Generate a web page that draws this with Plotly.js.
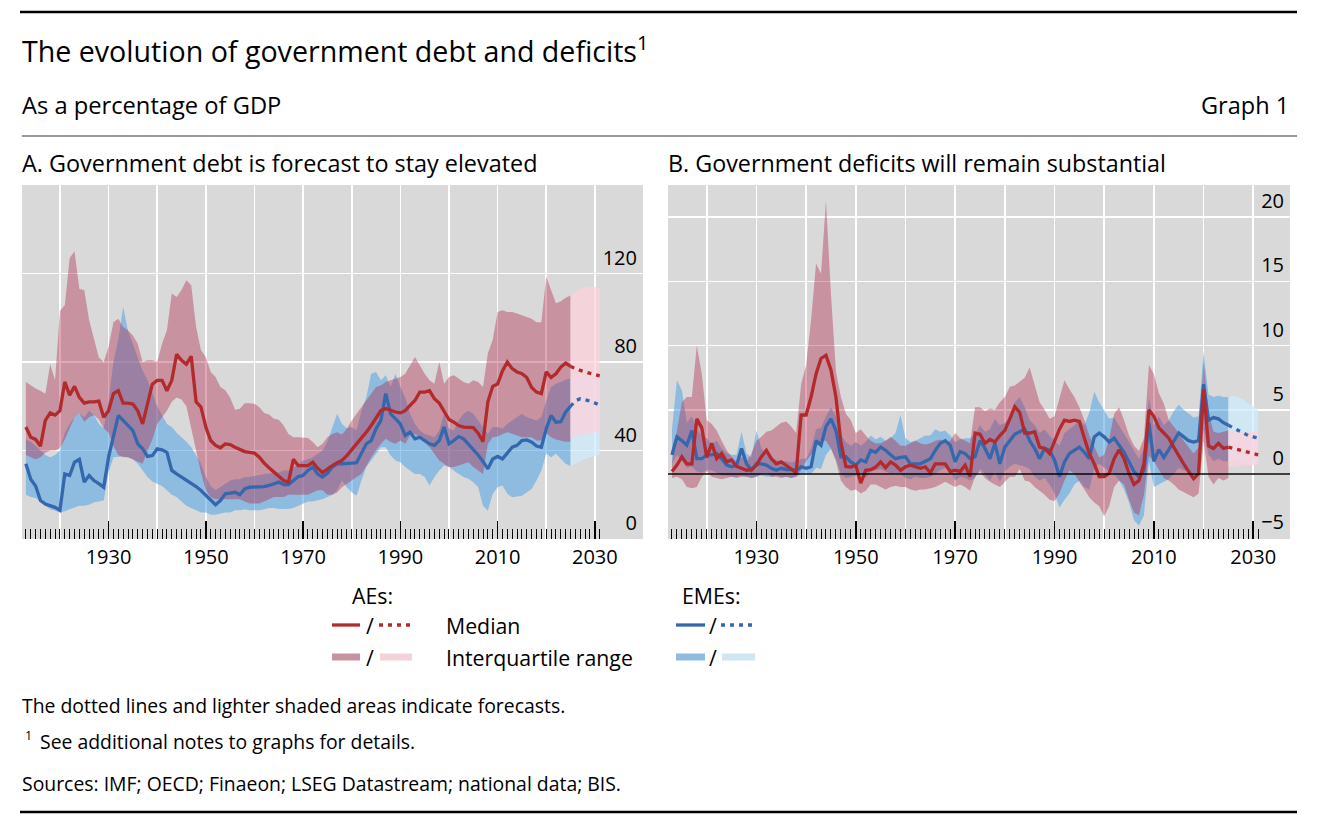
<!DOCTYPE html>
<html>
<head>
<meta charset="utf-8">
<script src="https://cdn.plot.ly/plotly-3.0.1.min.js"></script>
<style>
  html, body { margin: 0; padding: 0; background: #fff; }
  #chart { width: 1317px; height: 824px; }
</style>
</head>
<body>
<div id="chart"></div>
<script>
// ---- data (as a percentage of GDP) ----
const firstYear = 1913
const lastYear = 2025
const forecastYears = [2025, 2026, 2027, 2028, 2029, 2030, 2031]

// Panel A: government debt
const aeDebtMed = [
  50.6, 46, 45, 42, 53.6, 57, 56, 58, 71, 65,
  69, 64, 61.4, 62, 62, 62.3, 55, 58, 65.7, 67,
  61.4, 61.4, 61, 58, 52, 61, 70, 71.7, 71.7, 67,
  71.7, 83.5, 80.8, 79, 82.6, 62, 59.6, 50.6, 44.5, 42.3,
  41.2, 43, 42.7, 41.5, 40.3, 39.5, 39.2, 38.8, 37, 34.3,
  32.2, 30.2, 28, 26.4, 25.7, 36, 33.2, 33.2, 33.2, 34.7,
  32, 30, 31.7, 33.2, 34.5, 35.5, 37.7, 40.3, 43, 45.3,
  48.3, 51.3, 55, 58, 59, 58, 57.4, 57, 58, 60.4,
  62.6, 66.4, 66.4, 67, 63.4, 61.4, 57.4, 54, 52.8, 51.3,
  50.6, 50.6, 50.3, 47.8, 44, 62, 69, 70, 76, 80,
  77, 75.5, 74.7, 73, 68.5, 66.4, 65.7, 75.5, 73, 74.7,
  77.7, 79.5, 78
]
const aeDebtQ3 = [
  71, 69.4, 68, 67, 65.7, 79, 71.7, 103, 105.7, 127,
  130, 113, 112.5, 99, 91, 82, 80, 86.8, 98, 99.6,
  95.8, 94.3, 92, 88.3, 80, 80.8, 80.8, 80, 88.3, 94.3,
  111, 109.4, 112.5, 117, 114.7, 95.8, 85.3, 82.3, 75.5, 73.2,
  68.7, 67.2, 64, 58.4, 58.9, 61.4, 61.4, 61.1, 59.6, 56.9,
  56.3, 54.3, 53.9, 51.3, 47.5, 46, 46, 45.7, 45.7, 43.8,
  41.5, 43, 46, 47.5, 48.3, 47.2, 49.8, 53.6, 56.6, 59.6,
  62.6, 65.7, 68.7, 69.4, 71, 71.7, 72.5, 73.2, 74.7, 78.5,
  82.3, 78.5, 74.7, 71.7, 70.2, 80, 70.2, 73.2, 74, 72.5,
  71, 70.2, 71.7, 71, 68.7, 84, 90, 102.6, 103.4, 102.6,
  102.6, 101.9, 101.1, 100.4, 99.6, 98, 98, 118.5, 112.5, 106.5,
  107.5, 109, 110
]
const aeDebtQ1 = [
  38, 37, 36, 37, 39, 40, 40, 41, 45, 50,
  55, 57, 53, 55, 56, 54, 50, 48, 42, 38,
  37, 37, 36, 35, 34, 40, 45, 52, 55, 58,
  62, 64, 63, 60, 50, 40, 30, 22, 19, 18,
  18, 18, 18, 18, 18, 17, 16, 16, 16, 17,
  18, 19, 19, 19, 20, 20, 20, 20, 20, 21,
  22, 22, 20, 20, 21, 23.4, 25, 26.4, 28, 29.4,
  33, 37, 40, 43, 45.3, 43.8, 43, 44.5, 43, 46.8,
  47.5, 46, 43.8, 41.5, 38.5, 35.5, 34, 32.5, 32.5, 33.2,
  34, 34.7, 32.5, 31, 29.4, 43, 46, 46.3, 47.5, 48.3,
  47.5, 46.8, 46, 46, 46, 44.5, 44.5, 48, 46, 45,
  44.5, 44, 44
]
const emeDebtMed = [
  34, 27, 24, 17.4, 15.8, 15, 14.3, 13, 29.4, 28.7,
  34.7, 36, 25.7, 28.7, 26.4, 25, 23.4, 37, 46, 55.8,
  53.6, 51.3, 49, 43, 40.8, 37.3, 37.7, 40.8, 40.3, 39.2,
  31, 29.4, 28, 26.7, 25, 23.7, 21.9, 19.6, 17.4, 15.5,
  17.4, 20.4, 20.7, 21.1, 20, 22.6, 23.4, 23.4, 23.7, 23.7,
  24.2, 25, 25.7, 24.6, 24.6, 26.4, 28.2, 28.7, 31, 32.5,
  29.4, 28, 29.7, 32.5, 34, 34, 34.3, 34.3, 34.5, 38.5,
  43, 44.5, 49.8, 53.6, 65.7, 56.6, 54.3, 52, 46.8, 48.3,
  45.3, 46, 44.5, 43, 42.3, 44.5, 50.6, 43, 44.5, 46.3,
  45.3, 43, 40.5, 38, 35, 31.7, 36.2, 37.3, 36.2, 38.8,
  41.5, 42.3, 44.5, 44.8, 43.8, 42, 41.5, 49.8, 55.8, 52.8,
  53, 57.4, 60
]
const emeDebtQ3 = [
  45, 44, 42, 40, 38, 37, 38, 40, 48, 52,
  55, 57, 55, 58, 56, 52, 50, 62, 80, 90,
  105, 94, 88, 82, 76, 72, 66, 60, 56, 52,
  50.6, 48, 46, 44, 41.5, 38, 34, 28, 24, 22,
  23.5, 25, 26.4, 27, 27, 28, 28, 28.5, 29, 29.4,
  29.5, 30, 30, 31, 31, 32, 34, 35.5, 36, 37,
  38.5, 40, 44, 50, 56.6, 52, 50, 50.6, 49, 58,
  64, 74.7, 75.5, 71.7, 74, 68.7, 74.7, 68.7, 64, 56.6,
  52, 49, 47.5, 46.8, 46, 49, 56.6, 49.8, 49, 53.6,
  56.6, 58, 56.6, 53.6, 50.6, 47.5, 50.6, 50.6, 49.8, 52,
  53.6, 55, 56.6, 55, 54.3, 53.6, 55, 62.6, 68.7, 70.2,
  71, 72, 72.5
]
const emeDebtQ1 = [
  20, 19, 18.5, 17, 15, 13.5, 12.8, 12, 12.5, 13.5,
  14.3, 15, 15, 15.5, 16.6, 17, 17.4, 30, 37, 37,
  37.3, 37, 36, 34, 31, 28, 26, 25, 24, 22,
  20, 19, 17, 15, 14, 13, 12, 12, 11, 11,
  11.5, 12, 12, 13, 13, 13.5, 13, 13, 13, 13.5,
  14, 14, 13.6, 13.6, 13.6, 14, 15, 16, 17, 17,
  17.5, 18, 19, 20, 22, 26.4, 23.4, 21.1, 19.6, 26.4,
  32.5, 35.5, 38.5, 41.5, 41.5, 37.7, 35.5, 34.7, 32.5, 31,
  29.4, 29.4, 28, 24.2, 28, 31, 33.2, 32.5, 31, 29.4,
  28, 27.2, 25.7, 23.4, 15, 12.8, 20.4, 23.4, 24.2, 20.4,
  18.9, 19.2, 19.6, 21.1, 22.6, 26.4, 31, 38.5, 37, 38.5,
  36.2, 34, 33
]
const aeDebtMedF = [78, 77, 76.2, 75.5, 74.8, 74.2, 73.7]
const aeDebtQ3F = [110, 111.5, 113, 114, 114, 114, 113.5]
const aeDebtQ1F = [46, 46.5, 47, 47.5, 48, 48.3, 48.3]
const emeDebtMedF = [60, 62.5, 63.4, 63, 62.4, 61.5, 60.5]
const emeDebtQ3F = [72.5, 73, 73.5, 74, 74, 74, 74]
const emeDebtQ1F = [33, 34, 35, 36, 37, 37.5, 38]

// Panel B: government deficits
const aeDefMed = [
  0.2, 0.7, 1.35, 0.8, 0.8, 4.3, 3.6, 1.3, 2.4, 1.2,
  1.6, 0.95, 1.1, 0.6, 0.45, 0.3, 0.35, 0.7, 1.35, 1.85,
  1.2, 0.8, 0.95, 0.7, 0.4, 0.1, 4.6, 4.6, 6.0, 7.8,
  9.0, 9.25, 8.1, 6.0, 2.5, 0.6, 0.55, 0.7, -0.7, 0.3,
  0.35, 0.55, 0.95, 0.5, 0.95, 0.7, 0.3, 0.57, 0.7, 0.57,
  0.45, 0.57, 0.1, 0.8, 0.8, 0.8, 0.2, 0.3, 0.2, 0.7,
  -0.2, 3.2, 3.1, 2.4, 2.7, 2.5, 3.0, 3.4, 4.3, 5.25,
  4.8, 3.2, 3.2, 3.3, 2.1, 2.0, 1.6, 2.5, 3.5, 4.2,
  4.1, 4.2, 4.1, 2.8, 1.6, 0.8, -0.2, -0.2, 0.05, 1.2,
  1.9, 1.2, 0.05, -0.8, -0.5, 0.8, 5.0, 4.5, 3.6, 3.2,
  2.8, 2.1, 1.4, 0.8, 0.2, -0.35, 0.05, 6.6, 2.2, 2.0,
  2.4, 2.0, 2.1
]
const aeDefQ3 = [
  0.8, 3.4, 5.6, 6.0, 6.0, 10.0, 7.8, 4.2, 3.9, 3.4,
  2.6, 1.85, 1.35, 0.95, 1.35, 0.95, 1.6, 2.6, 2.9, 3.3,
  3.4, 3.7, 4.0, 4.1, 3.7, 3.2, 7.0, 8.5, 12, 16.4,
  15.6, 21.3, 14, 8.0, 6.0, 4.7, 4.2, 3.2, 3.5, 3.0,
  2.6, 2.4, 2.4, 2.6, 2.9, 2.6, 2.2, 2.2, 2.4, 2.6,
  2.4, 2.3, 2.4, 2.6, 2.7, 2.5, 2.6, 3.2, 2.8, 2.6,
  2.4, 5.2, 5.2, 4.9, 5.1, 5.0, 5.6, 6.0, 6.8, 6.9,
  7.2, 7.5, 8.3, 7.0, 5.6, 5.0, 4.3, 4.5, 5.8, 7.3,
  6.6, 6.0, 5.2, 4.2, 3.0, 2.2, 1.3, 1.5, 2.7, 4.7,
  5.2, 4.2, 3.0, 2.2, 1.8, 2.8, 8.5, 7.8, 6.3, 5.5,
  4.2, 3.7, 3.2, 2.6, 2.1, 1.6, 2.1, 8.8, 4.8, 3.3,
  3.2, 3.3, 3.4
]
const aeDefQ1 = [
  -0.3, -0.2, -0.4, -1.0, -1.1, -1.0, -0.2, 0.2, -0.2, -0.3,
  -0.4, -0.3, -0.2, -0.3, -0.2, -0.2, -0.3, -0.2, 0.0, 0.1,
  -0.2, -0.2, -0.3, -0.2, -0.3, -0.2, 0.3, 1.0, 1.5, 2.0,
  2.6, 2.6, 2.0, 1.0, -0.5, -1.0, -1.3, -1.2, -1.5, -1.3,
  -0.8, -0.8, -1.0, -1.2, -1.0, -0.9, -1.0, -1.0, -1.2, -1.3,
  -1.2, -1.2, -1.1, -1.0, -0.8, -0.6, -0.8, -1.0, -0.8, -1.0,
  -1.3, -0.2, 0.2, -0.3, -0.6, -0.8, -1.0, -0.6, -0.2, -0.2,
  0.4, -0.5, -0.6, -1.0, -1.3, -1.6, -2.0, -2.1, -1.5, -0.5,
  0.3, 0.0, -0.5, -1.2, -1.8, -2.2, -2.5, -3.3, -2.5, -1.0,
  -0.5, -0.8, -2.0, -3.0, -3.2, -1.6, 1.4, 1.0, 0.3, -0.3,
  -0.5, -0.8, -1.2, -1.4, -1.6, -1.8, -1.5, 2.6, -0.2, -0.8,
  -0.3, -0.5, -0.3
]
const emeDefMed = [
  1.5, 2.9, 2.6, 2.25, 3.4, 1.2, 1.2, 1.5, 1.5, 1.6,
  1.2, 0.7, 0.57, 0.7, 2.0, 0.8, 0.3, 0.8, 0.8, 0.7,
  0.45, 0.3, 0.45, 0.36, 0.36, 0.3, 0.57, 0.45, 0.57, 2.6,
  2.25, 3.7, 4.3, 3.4, 1.35, 1.35, 0.95, 0.7, 1.1, 0.95,
  1.85, 1.7, 2.1, 1.85, 1.5, 1.2, 1.3, 1.35, 0.8, 0.8,
  0.8, 1.0, 1.2, 1.85, 2.4, 2.6, 2.25, 0.95, 1.75, 1.6,
  1.2, 1.35, 2.6, 2.0, 1.2, 2.4, 0.8, 2.1, 2.6, 3.1,
  3.3, 3.5, 2.6, 2.0, 1.2, 2.0, 1.85, 1.1, -0.2, 0.95,
  1.6, 1.85, 2.1, 1.7, 1.2, 2.9, 3.2, 2.9, 2.5, 2.8,
  2.25, 1.7, 0.95, 0.2, -0.2, 0.3, 4.0, 1.0, 1.9, 1.3,
  1.9, 2.6, 3.2, 2.9, 2.6, 2.5, 2.6, 7.0, 4.2, 4.4,
  4.3, 4.0, 3.8
]
const emeDefQ3 = [
  3.5, 7.3, 6.5, 4.0, 4.5, 3.5, 3.0, 2.8, 2.3, 2.6,
  2.0, 1.6, 1.5, 1.5, 3.3, 1.6, 1.3, 3.4, 2.0, 1.6,
  1.3, 1.1, 1.0, 1.0, 0.9, 1.0, 1.2, 1.2, 2.0, 3.5,
  3.6, 4.5, 5.2, 4.5, 3.0, 2.5, 2.2, 2.5, 2.2, 2.5,
  3.0, 2.7, 2.9, 2.6, 2.8, 3.2, 4.6, 2.8, 2.5, 2.6,
  2.8, 3.0, 3.0, 3.5, 3.3, 3.4, 3.0, 2.5, 2.7, 2.8,
  2.8, 3.1, 3.8, 3.3, 3.5, 4.3, 3.8, 4.0, 4.4, 5.6,
  6.0, 5.2, 4.2, 3.8, 3.2, 3.5, 3.0, 2.6, 2.2, 3.2,
  3.5, 3.8, 4.2, 3.8, 4.8, 6.4, 5.6, 5.0, 4.3, 4.4,
  3.8, 3.2, 2.5, 1.8, 1.2, 2.0, 6.0, 3.8, 4.5, 3.8,
  4.2, 4.9, 5.4, 5.0, 4.7, 4.4, 4.5, 9.5, 6.2, 6.0,
  6.1, 6.0, 6.0
]
const emeDefQ1 = [
  0.8, 1.5, 1.0, 0.5, 0.6, 0.2, 0.1, 0.3, 0.3, 0.1,
  -0.1, -0.1, -0.2, -0.2, -0.1, -0.2, -0.3, -0.2, -0.1, -0.2,
  -0.2, -0.1, -0.2, -0.2, -0.3, -0.2, 0.0, 0.1, 0.0, 0.5,
  0.4, 1.5, 2.0, 1.2, 0.0, -0.3, -0.2, -0.1, 0.0, -0.3,
  0.2, 0.3, 0.4, 0.2, 0.0, 0.1, 0.0, -0.3, -0.4, -0.2,
  -0.3, -0.3, -0.2, 0.0, 0.3, 0.5, 0.2, -0.5, -0.2, -0.3,
  -0.5, -0.3, 0.4, 0.0, -0.5, 0.2, -0.6, 0.2, 0.6, 0.8,
  0.7, 0.6, 0.4, -0.2, -0.5, -0.3, -0.8, -1.5, -2.6, -2.0,
  -1.5, -0.8, -0.5, -1.0, -1.2, 0.5, 0.8, 0.5, 0.2, 0.0,
  -0.5, -1.2, -2.2, -3.6, -4.0, -3.2, 1.0, -1.0, -0.8, -0.6,
  -0.4, 0.0, 0.5, 0.3, 0.2, 0.0, 0.2, 3.5, 1.5, 1.0,
  1.2, 1.0, 1.0
]
const aeDefMedF = [2.1, 2.0, 1.9, 1.8, 1.7, 1.6, 1.5]
const aeDefQ3F = [3.4, 3.4, 3.3, 3.3, 3.3, 3.3, 3.3]
const aeDefQ1F = [0.6, 0.6, 0.6, 0.7, 0.7, 0.7, 0.7]
const emeDefMedF = [3.8, 3.6, 3.4, 3.2, 3.0, 2.9, 2.8]
const emeDefQ3F = [6.0, 6.1, 6.0, 5.8, 5.5, 5.3, 5.0]
const emeDefQ1F = [1.0, 1.0, 0.9, 0.9, 0.8, 0.8, 0.8]

// axis labels
const decades = [1920, 1930, 1940, 1950, 1960, 1970, 1980, 1990, 2000, 2010, 2020, 2030]
const decadeLabels = ['', '1930', '', '1950', '', '1970', '', '1990', '', '2010', '', '2030']
const debtTicks = [0, 40, 80, 120]
const debtLabels = ['0', '40', '80', '120']
const deficitTicks = [-5, 0, 5, 10, 15, 20]
const deficitLabels = ['\u22125', '0', '5', '10', '15', '20']

// ---- styling ----
const W = 1317, H = 824
const px = x => x / W
const py = y => 1 - y / H

const AE_LINE = '#b22a2c'
const EME_LINE = '#3567ad'
const AE_BAND = 'rgba(175, 40, 75, 0.4)'
const EME_BAND = 'rgba(80, 162, 230, 0.55)'
const AE_FC_BAND = 'rgba(255, 208, 218, 0.72)'
const EME_FC_BAND = 'rgba(205, 235, 252, 0.72)'
const DOTS = '4px,5px'
const FONT = 'Open Sans, Noto Sans, sans-serif'

const years = []
for (let y = firstYear; y <= lastYear; y++) years.push(y)
const minorTicks = []
for (let y = firstYear; y <= 2031; y++) minorTicks.push(y)

function band(xs, hi, lo, color, xa, ya) {
  return {
    x: xs.concat(xs.slice().reverse()),
    y: hi.concat(lo.slice().reverse()),
    xaxis: xa, yaxis: ya,
    type: 'scatter', mode: 'lines',
    fill: 'toself', fillcolor: color,
    line: { width: 0 },
    hoverinfo: 'skip',
  }
}

function line(xs, ys, color, dash, xa, ya) {
  return {
    x: xs, y: ys,
    xaxis: xa, yaxis: ya,
    type: 'scatter', mode: 'lines',
    line: { color: color, width: 3.3, dash: dash || 'solid' },
    hoverinfo: 'skip',
  }
}

const data = [
  band(years, emeDebtQ3, emeDebtQ1, EME_BAND, 'x', 'y'),
  band(years, aeDebtQ3, aeDebtQ1, AE_BAND, 'x', 'y'),
  band(forecastYears, emeDebtQ3F, emeDebtQ1F, EME_FC_BAND, 'x', 'y'),
  band(forecastYears, aeDebtQ3F, aeDebtQ1F, AE_FC_BAND, 'x', 'y'),
  line(years, emeDebtMed, EME_LINE, null, 'x', 'y'),
  line(years, aeDebtMed, AE_LINE, null, 'x', 'y'),
  line(forecastYears, emeDebtMedF, EME_LINE, DOTS, 'x', 'y'),
  line(forecastYears, aeDebtMedF, AE_LINE, DOTS, 'x', 'y'),

  band(years, emeDefQ3, emeDefQ1, EME_BAND, 'x2', 'y2'),
  band(years, aeDefQ3, aeDefQ1, AE_BAND, 'x2', 'y2'),
  band(forecastYears, emeDefQ3F, emeDefQ1F, EME_FC_BAND, 'x2', 'y2'),
  band(forecastYears, aeDefQ3F, aeDefQ1F, AE_FC_BAND, 'x2', 'y2'),
  line(years, emeDefMed, EME_LINE, null, 'x2', 'y2'),
  line(years, aeDefMed, AE_LINE, null, 'x2', 'y2'),
  line(forecastYears, emeDefMedF, EME_LINE, DOTS, 'x2', 'y2'),
  line(forecastYears, aeDefMedF, AE_LINE, DOTS, 'x2', 'y2'),
]

const xCommon = {
  tickmode: 'array', tickvals: decades, ticktext: decadeLabels,
  ticks: 'inside', ticklen: 18, tickwidth: 1.6, tickcolor: '#000',
  ticklabelstandoff: 4,
  showgrid: true, gridcolor: '#fff', gridwidth: 1.6,
  zeroline: false, showline: false,
  tickfont: { family: FONT, size: 20, color: '#000' },
  minor: {
    tickmode: 'array', tickvals: minorTicks,
    ticks: 'inside', ticklen: 10, tickwidth: 1, tickcolor: '#000',
    showgrid: false,
  },
  fixedrange: true,
}

const yCommon = {
  tickmode: 'array',
  side: 'right', ticklabelposition: 'inside',
  ticks: '', ticklabelshift: -16, ticklabelstandoff: 3,
  showgrid: true, gridcolor: '#fff', gridwidth: 1.6,
  zeroline: false, showline: false,
  tickfont: { family: FONT, size: 20, color: '#000' },
  fixedrange: true,
}

const plotTop = 185, plotBottom = 539
const yDomain = [py(plotBottom), py(plotTop)]

function ann(text, x, y, size, anchor) {
  return {
    text: text, xref: 'paper', yref: 'paper',
    x: px(x), y: py(y), xanchor: anchor || 'left', yanchor: 'middle',
    showarrow: false, borderpad: 0,
    font: { family: FONT, size: size, color: '#000' },
  }
}

function rule(x0, x1, y, width, color, dash) {
  return {
    type: 'line', xref: 'paper', yref: 'paper',
    x0: px(x0), x1: px(x1), y0: py(y), y1: py(y),
    line: { color: color, width: width, dash: dash || 'solid' },
  }
}

const layout = {
  width: W, height: H,
  margin: { l: 0, r: 0, t: 0, b: 0 },
  paper_bgcolor: '#fff',
  plot_bgcolor: '#d9d9d9',
  showlegend: false,
  font: { family: FONT, color: '#000' },

  xaxis: Object.assign({}, xCommon, { domain: [px(22), px(643)], range: [1912.2, 2039.9], anchor: 'y' }),
  yaxis: Object.assign({}, yCommon, { domain: yDomain, range: [0, 160], anchor: 'x',
    tickvals: debtTicks, ticktext: debtLabels }),
  xaxis2: Object.assign({}, xCommon, { domain: [px(668), px(1290)], range: [1912.2, 2037.4], anchor: 'y2' }),
  yaxis2: Object.assign({}, yCommon, { domain: yDomain, range: [-5.05, 22.5], anchor: 'x2',
    tickvals: deficitTicks, ticktext: deficitLabels }),

  shapes: [
    rule(20, 1297, 12, 2.5, '#000'),
    rule(22, 1297, 136, 1.2, '#333'),
    rule(20, 1297, 812, 2.5, '#000'),
    // zero line, panel B
    { type: 'line', xref: 'x2 domain', yref: 'y2', x0: 0, x1: 1, y0: 0, y1: 0,
      line: { color: '#000', width: 1.5 }, layer: 'above' },
    // legend keys
    rule(332, 360, 625, 3.3, AE_LINE),
    rule(379, 412, 625, 3.3, AE_LINE, DOTS),
    rule(332, 360, 657, 7, '#c892a0'),
    rule(380, 412, 657, 7, '#f4d2da'),
    rule(676, 705, 625, 3.3, EME_LINE),
    rule(721, 752, 625, 3.3, EME_LINE, DOTS),
    rule(676, 705, 657, 7, '#8ebbe0'),
    rule(722, 755, 657, 7, '#d0e6f3'),
  ],

  annotations: [
    ann('The evolution of government debt and deficits<sup>1</sup>', 21, 50, 28.6),
    ann('As a percentage of GDP', 21, 105, 23.7),
    ann('Graph 1', 1290, 105, 23.5, 'right'),
    ann('A. Government debt is forecast to stay elevated', 21, 163, 23.4),
    ann('B. Government deficits will remain substantial', 667, 163, 23.3),

    ann('AEs:', 373, 595, 21.3, 'center'),
    ann('/', 370, 625, 21.3, 'center'),
    ann('Median', 445, 625, 21.3),
    ann('/', 370, 657, 21.3, 'center'),
    ann('Interquartile range', 445, 657, 21.3),
    ann('EMEs:', 711, 595, 21.3, 'center'),
    ann('/', 713, 625, 21.3, 'center'),
    ann('/', 713, 657, 21.3, 'center'),

    ann('The dotted lines and lighter shaded areas indicate forecasts.', 21, 705, 19.4),
    ann('1', 24, 735, 12.5),
    ann('See additional notes to graphs for details.', 39, 741, 19.4),
    ann('Sources: IMF; OECD; Finaeon; LSEG Datastream; national data; BIS.', 21, 783, 19.4),
  ],
}

Plotly.newPlot('chart', data, layout, { displayModeBar: false, staticPlot: true })
</script>
</body>
</html>
